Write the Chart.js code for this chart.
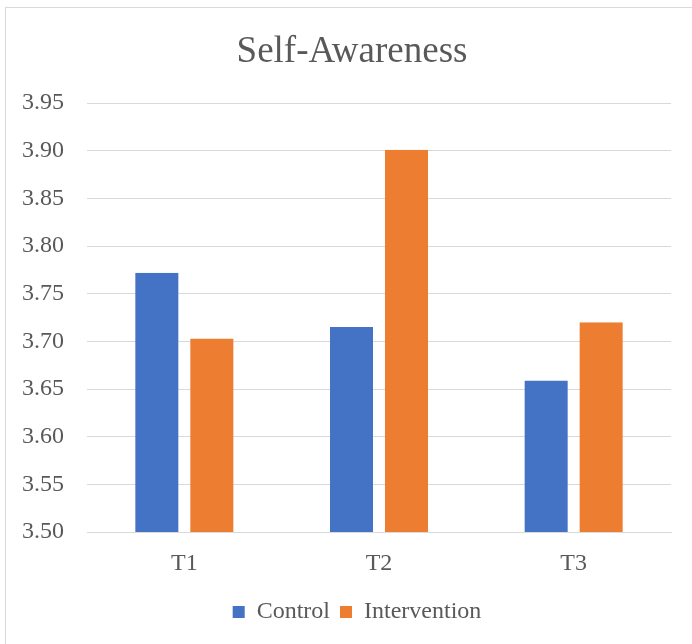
<!DOCTYPE html>
<html>
<head>
<meta charset="utf-8">
<script src="https://cdn.jsdelivr.net/npm/chart.js@4/dist/chart.umd.min.js"></script>
<style>
  html, body { margin: 0; padding: 0; background: #fff; }
  #wrap { position: relative; width: 692px; height: 644px; overflow: hidden; }
  #frame { position: absolute; left: 5px; top: 7px; width: 720px; height: 680px; border: 1px solid #d9d9d9; pointer-events: none; }
  canvas { position: absolute; left: 0; top: 0; }
</style>
</head>
<body>
<div id="wrap">
  <canvas id="awarenessChart" width="692" height="644"></canvas>
  <div id="frame"></div>
</div>
<script>
const categories = ['T1', 'T2', 'T3'];
const controlValues = [3.772, 3.715, 3.659];
const interventionValues = [3.703, 3.901, 3.720];
const yTicks = [3.50, 3.55, 3.60, 3.65, 3.70, 3.75, 3.80, 3.85, 3.90, 3.95];

const textColor = '#595959';
const serif = "'Liberation Serif', 'Times New Roman', serif";

// transparent side borders leave a gap between the two bars of a group
const barStyle = {
    barPercentage: 0.891,
    categoryPercentage: 0.565,
    borderColor: 'rgba(0,0,0,0)',
    borderWidth: { left: 3, right: 3, top: 0, bottom: 0 },
    borderSkipped: false,
};

// title and legend are centred on the framed box, not on the whole canvas
const shiftHeader = {
    id: 'shiftHeader',
    afterLayout(chart) {
        if (chart.titleBlock) chart.titleBlock.left = 33;
        if (chart.legend) chart.legend.left = 43;
    }
};

const ctx = document.getElementById('awarenessChart').getContext('2d');
const awarenessChart = new Chart(ctx, {
    type: 'bar',
    data: {
        labels: categories,
        datasets: [
            Object.assign({ label: 'Control', data: controlValues, backgroundColor: '#4472c4' }, barStyle),
            Object.assign({ label: 'Intervention', data: interventionValues, backgroundColor: '#ed7d31' }, barStyle)
        ]
    },
    options: {
        responsive: false,
        animation: false,
        layout: {
            padding: { top: 10, right: 21, bottom: 10, left: 0 }
        },
        scales: {
            x: {
                grid: { display: false, drawTicks: false },
                border: { color: '#d9d9d9', width: 1 },
                ticks: { color: textColor, font: { family: serif, size: 24 }, padding: 17 },
                afterFit: (scale) => { scale.height = 58; }
            },
            y: {
                min: 3.50,
                max: 3.95,
                afterBuildTicks: (scale) => { scale.ticks = yTicks.map(v => ({ value: v })); },
                grid: { color: '#d9d9d9', lineWidth: 1, drawTicks: false },
                border: { display: false },
                ticks: {
                    color: textColor,
                    font: { family: serif, size: 24 },
                    padding: 23,
                    callback: (v) => Number(v).toFixed(2)
                },
                afterFit: (scale) => { scale.width = 87; }
            }
        },
        plugins: {
            title: {
                display: true,
                text: 'Self-Awareness',
                color: textColor,
                font: { family: serif, size: 37, weight: 'normal' },
                padding: { top: 20, bottom: 28.6 }
            },
            legend: {
                position: 'bottom',
                labels: {
                    color: textColor,
                    font: { family: serif, size: 24 },
                    boxWidth: 12,
                    boxHeight: 12,
                    padding: 10
                }
            },
            tooltip: { enabled: false }
        }
    },
    plugins: [shiftHeader]
});
</script>
</body>
</html>
